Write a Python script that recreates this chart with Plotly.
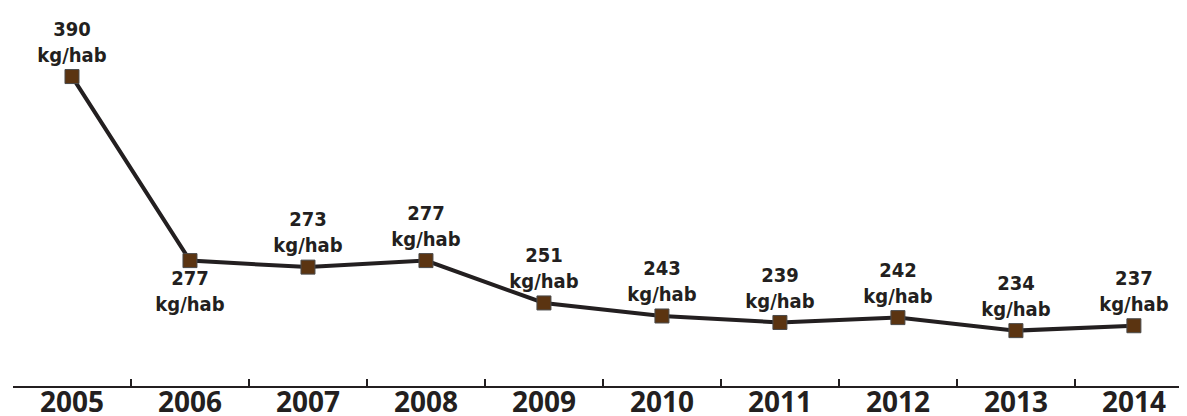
import plotly.graph_objects as go

years = ["2005", "2006", "2007", "2008", "2009", "2010", "2011", "2012", "2013", "2014"]
values = [390, 277, 273, 277, 251, 243, 239, 242, 234, 237]
unit = "kg/hab"
label_pos = ["top center", "bottom center", "top center", "top center", "top center",
             "top center", "top center", "top center", "top center", "top center"]

labels = [f"{v}<br>{unit}" for v in values]

fig = go.Figure()
fig.add_trace(go.Scatter(
    x=years, y=values,
    mode="lines+markers+text",
    line=dict(color="#231f20", width=4),
    marker=dict(symbol="square", size=14, color="#5b3411",
                line=dict(color="#4a4a4a", width=1)),
    text=labels,
    textposition=label_pos,
    textfont=dict(family="DejaVu Sans Condensed, sans-serif",
                  size=20, color="#231f20", weight="bold"),
    cliponaxis=False,
    showlegend=False,
))

fig.update_layout(
    width=1179, height=408,
    margin=dict(l=5, r=0, t=0, b=30, autoexpand=False),
    paper_bgcolor="white", plot_bgcolor="white",
    xaxis=dict(
        type="category", range=[-0.5, 9.45],
        showline=True, linecolor="#231f20", linewidth=2,
        ticks="inside", tickson="boundaries", ticklen=7, tickwidth=2, tickcolor="#231f20",
        showgrid=False, zeroline=False,
        tickfont=dict(family="Open Sans, Liberation Sans, sans-serif", size=28,
                      color="#231f20", weight="bold"),
        ticklabelstandoff=-10,
        automargin=False,
    ),
    yaxis=dict(range=[200, 432.1], visible=False, showgrid=False, zeroline=False),
)

fig.write_html("out.html")
